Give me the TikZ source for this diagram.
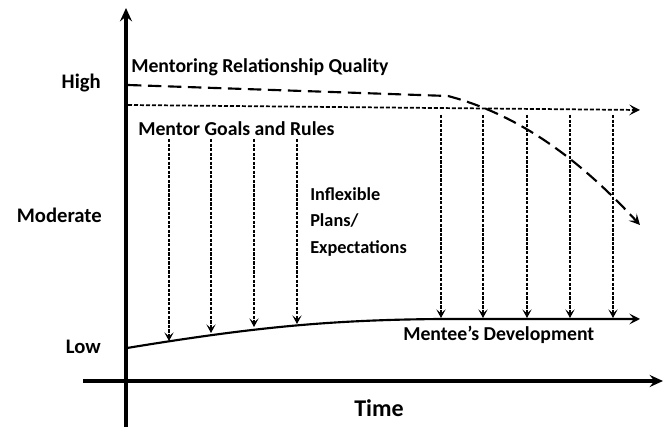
\documentclass[tikz,border=0pt]{standalone}
\usepackage{fontspec}
\setmainfont{Carlito}
\usetikzlibrary{arrows.meta}
\begin{document}
\begin{tikzpicture}[x=0.75pt,y=-0.75pt,
  axis/.style={line width=2.5pt,-{Stealth[length=10pt,width=9pt,inset=3.5pt]}},
  lbl/.style={font=\bfseries\fontsize{15.5}{18}\selectfont, inner sep=0pt},
  txt/.style={font=\bfseries\fontsize{14.8}{18}\selectfont, inner sep=0pt},
  quality/.style={line width=1.6pt, dash pattern=on 10pt off 5pt, -{Stealth[length=8pt,width=8pt,inset=3.5pt]}},
  rules/.style={line width=1.3pt, dash pattern=on 3pt off 1.5pt, -{Stealth[length=8pt,width=8pt,inset=3.5pt]}},
  influence/.style={line width=0.85pt, dash pattern=on 2.4pt off 1pt, -{Stealth[length=6.5pt,width=7pt,inset=3pt]}},
  devel/.style={line width=1.6pt, -{Stealth[length=8pt,width=8pt,inset=3.5pt]}},
]
\useasboundingbox (0,0) rectangle (665,427);
% axes
\coordinate (ybot) at (126,427);
\coordinate (ytop) at (126,8);
\coordinate (xleft) at (83,381);
\coordinate (xright) at (663,381);
\draw[axis] (ybot) -- (ytop);
\draw[axis] (xleft) -- (xright);
% axis labels
\node[lbl, anchor=east] (high) at (101,83) {High};
\node[lbl, anchor=east] (moderate) at (102,215) {Moderate};
\node[lbl, anchor=east] (low) at (101,347) {Low};
\node[lbl, font=\bfseries\fontsize{18}{20}\selectfont] (time) at (379,408) {Time};
% texts
\node[txt, anchor=west] (mrq) at (131,67) {Mentoring Relationship Quality};
\node[txt, anchor=west] (mgr) at (138,129) {Mentor Goals and Rules};
\node[txt, anchor=north west, align=left, font=\bfseries\fontsize{13.7}{20}\selectfont] (ipe) at (310,187) {Inflexible\\Plans/\\Expectations};
\node[txt, anchor=west] (dev) at (403,335) {Mentee’s Development};
% quality line
\coordinate (q0) at (128,85);
\coordinate (q1) at (448,96);
\coordinate (q2) at (640,225);
\draw[quality] (q0) -- (q1) .. controls (520,115) and (580,160) .. (q2);
% rules line
\coordinate (r0) at (128,105);
\coordinate (r1) at (640,110);
\draw[rules] (r0) -- (r1);
% development curve
\coordinate (d0) at (127,348);
\coordinate (d1) at (440,319);
\coordinate (d2) at (640,319);
\draw[devel] (d0) .. controls (255,327) and (330,320) .. (d1) -- (d2);
% influence arrows, left group
\foreach \x/\e [count=\i] in {169/341, 211/333, 254/327, 297/324}{
  \coordinate (a\i) at (\x,139);
  \coordinate (b\i) at (\x,\e);
  \draw[influence] (a\i) -- (b\i);
}
% influence arrows, right group
\foreach \x/\e [count=\i] in {441/318, 483/318, 527/318, 570/318, 613/318}{
  \coordinate (c\i) at (\x,115);
  \coordinate (e\i) at (\x,\e);
  \draw[influence] (c\i) -- (e\i);
}
\end{tikzpicture}
\end{document}
